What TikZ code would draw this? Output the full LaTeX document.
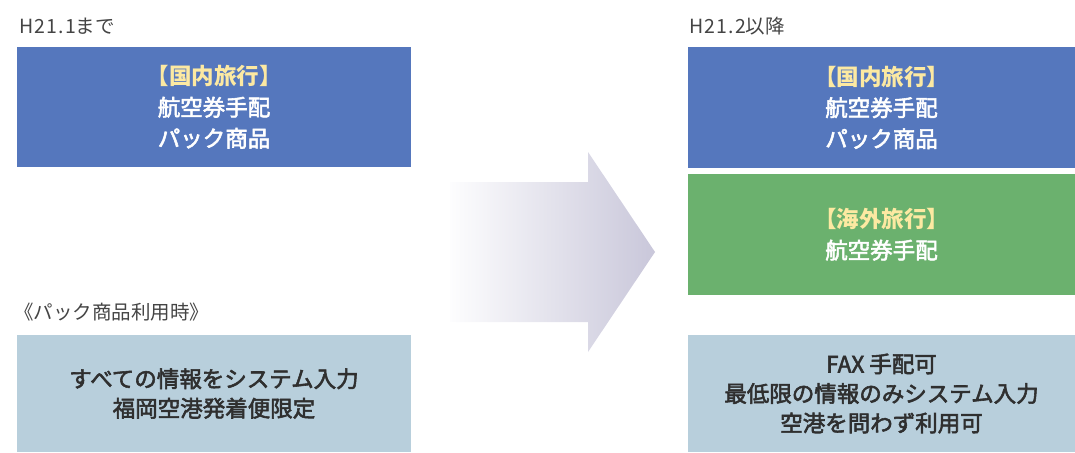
\documentclass[tikz,border=0pt]{standalone}
\usepackage{fontspec}
\setmainfont{Noto Sans CJK JP}
\newfontfamily\medfont[FakeBold=2.5]{Noto Sans CJK JP}
\newfontfamily\capfont[LetterSpace=6]{Noto Sans CJK JP}
\definecolor{boxblue}{HTML}{5577BD}
\definecolor{boxgreen}{HTML}{6BB16E}
\definecolor{boxlight}{HTML}{B8CFDC}
\definecolor{headyellow}{HTML}{FCE9A2}
\definecolor{darktext}{HTML}{2F2F2F}
\definecolor{labeltext}{HTML}{444444}
\definecolor{arrowleft}{HTML}{FDFDFE}
\definecolor{arrowright}{HTML}{C9C7DA}
\tikzset{
  panel/.style={rectangle, inner sep=0pt, align=center},
  bluepanel/.style={panel, fill=boxblue, text=white, font=\fontsize{22.5}{31}\selectfont\medfont},
  greenpanel/.style={panel, fill=boxgreen, text=white, font=\fontsize{22.5}{31}\selectfont\medfont},
  lightpanel/.style={panel, fill=boxlight, text=darktext, font=\fontsize{22.5}{29.5}\selectfont\medfont},
  caption/.style={anchor=west, inner sep=0pt, text=labeltext, font=\fontsize{19.5}{22}\selectfont},
}
\newcommand{\headtxt}[1]{{\color{headyellow}\rmfamily\bfseries #1}}
\begin{document}
\begin{tikzpicture}[x=1pt,y=-1pt]
\useasboundingbox (0,0) rectangle (1075,452);
% captions
\node[caption] (capA) at (19,26) {{\capfont H21.1}まで};
\node[caption] (capB) at (689,26) {{\capfont H21.2}以降};
\node[caption] (capC) at (14,312) {《パック商品利用時》};
% left boxes
\node[bluepanel, minimum width=394pt, minimum height=120pt] (ltop) at (214,107)
  {\headtxt{【国内旅行】}\\航空券手配\\パック商品};
\node[lightpanel, minimum width=394pt, minimum height=117pt] (lbot) at (214,393.5)
  {すべての情報をシステム入力\\福岡空港発着便限定};
% right boxes
\node[bluepanel, minimum width=387pt, minimum height=121pt] (rtop) at (881.5,107.5)
  {\headtxt{【国内旅行】}\\航空券手配\\パック商品};
\node[greenpanel, minimum width=387pt, minimum height=121pt] (rmid) at (881.5,234.5)
  {\headtxt{【海外旅行】}\\航空券手配};
\node[lightpanel, minimum width=387pt, minimum height=117pt] (rbot) at (881.5,393.5)
  {FAX 手配可\\最低限の情報のみシステム入力\\空港を問わず利用可};
% big arrow
\shade[left color=arrowleft, right color=arrowright]
  (450,182) -- (588,182) -- (588,152) -- (655,252) -- (588,352) -- (588,322) -- (450,322) -- cycle;
\end{tikzpicture}
\end{document}
